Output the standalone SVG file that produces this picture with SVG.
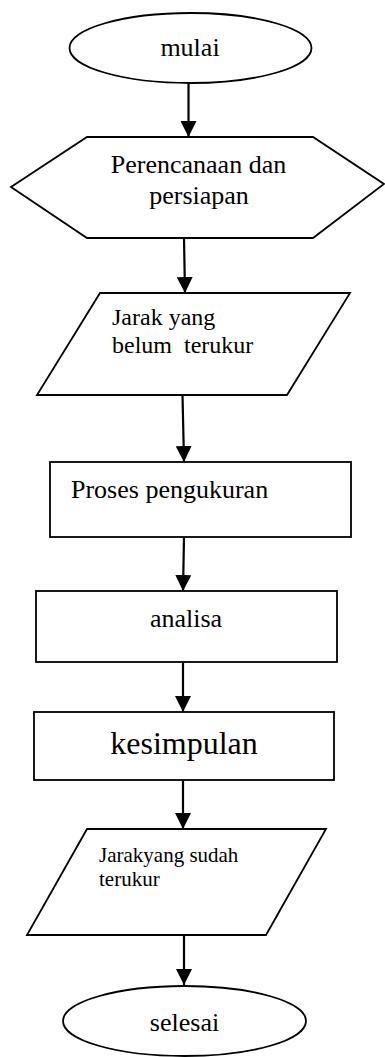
<svg xmlns="http://www.w3.org/2000/svg" width="385" height="1057" viewBox="0 0 385 1057">
<style>
.shape{fill:#fff;stroke:#000;stroke-width:1.8}
.conn{stroke:#000;stroke-width:2.2;fill:none}
text{font-family:'Liberation Serif',Tinos,'DejaVu Serif',serif;fill:#000;font-size:26px}
.c{text-anchor:middle}
</style>
<defs>
<marker id="ah" viewBox="0 0 16 16" refX="16" refY="8" markerWidth="16" markerHeight="16" orient="auto" markerUnits="userSpaceOnUse">
<path d="M0,0 L16,8 L0,16 z" fill="#000"/>
</marker>
</defs>
<rect width="385" height="1057" fill="#fff"/>
<g id="connectors">
<line class="conn" x1="188.5" y1="83" x2="188.5" y2="137" marker-end="url(#ah)"/>
<line class="conn" x1="184" y1="238" x2="185" y2="293" marker-end="url(#ah)"/>
<line class="conn" x1="182.5" y1="395" x2="184" y2="462" marker-end="url(#ah)"/>
<line class="conn" x1="184" y1="537" x2="183" y2="591" marker-end="url(#ah)"/>
<line class="conn" x1="183" y1="662" x2="183" y2="712" marker-end="url(#ah)"/>
<line class="conn" x1="183" y1="780" x2="183" y2="829" marker-end="url(#ah)"/>
<line class="conn" x1="184" y1="935" x2="184" y2="985" marker-end="url(#ah)"/>
</g>
<g id="mulai">
<ellipse class="shape" cx="190.5" cy="48" rx="121" ry="35"/>
<text class="c" x="190" y="56">mulai</text>
</g>
<g id="perencanaan">
<polygon class="shape" points="11,187 87,137 313,137 384,184 313,238 87,238"/>
<text class="c" x="198.5" y="173">Perencanaan dan</text>
<text class="c" x="199" y="204">persiapan</text>
</g>
<g id="jarak-belum">
<polygon class="shape" points="100,293 350,293 287,395 37,395"/>
<text x="112" y="325" style="font-size:24px">Jarak yang</text>
<text x="112" y="353" style="font-size:24px;white-space:pre" xml:space="preserve">belum  terukur</text>
</g>
<g id="proses">
<rect class="shape" x="50" y="462" width="301" height="75"/>
<text x="71" y="498">Proses pengukuran</text>
</g>
<g id="analisa">
<rect class="shape" x="36" y="591" width="301" height="71"/>
<text class="c" x="186" y="627">analisa</text>
</g>
<g id="kesimpulan">
<rect class="shape" x="34" y="712" width="300" height="68"/>
<text class="c" x="184" y="754" style="font-size:32px">kesimpulan</text>
</g>
<g id="jarak-sudah">
<polygon class="shape" points="87,829 326,829 266,935 27,935"/>
<text x="99" y="862" style="font-size:21px">Jarakyang sudah</text>
<text x="99" y="886" style="font-size:21px">terukur</text>
</g>
<g id="selesai">
<ellipse class="shape" cx="184.5" cy="1021" rx="121.5" ry="35"/>
<text class="c" x="184.5" y="1031">selesai</text>
</g>
</svg>
